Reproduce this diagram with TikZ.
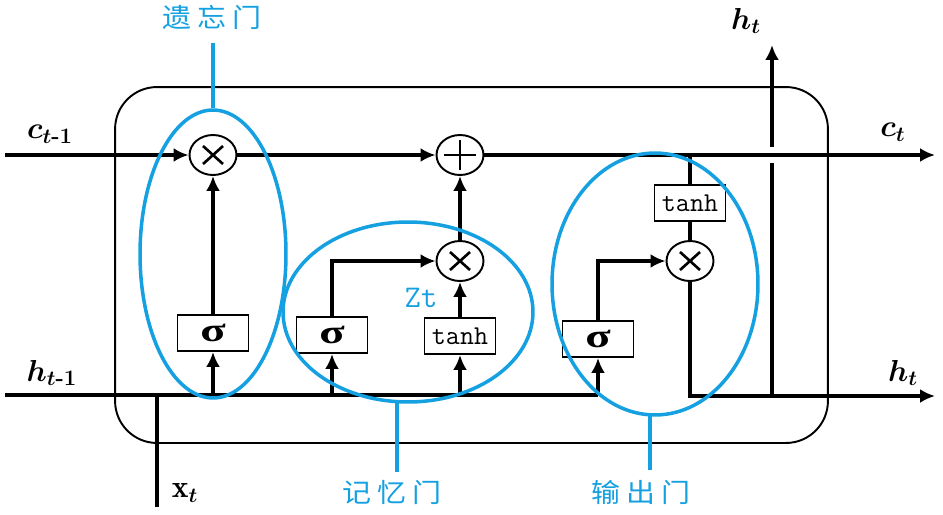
\documentclass[tikz,border=0pt]{standalone}
\usepackage{amsmath}
\usepackage{fontspec}
\newfontfamily\cjk{Noto Sans CJK SC}
\newfontfamily\grk{Liberation Serif}
\usetikzlibrary{arrows.meta,shapes.geometric,calc}
\definecolor{gateblue}{RGB}{20,160,225}
\newcommand{\sigsym}{\scalebox{1.4}[1]{\grk\bfseries σ}}
\begin{document}
\begin{tikzpicture}[x=0.02cm,y=-0.02cm,
  main/.style={line width=2.2pt},
  conn/.style={line width=1.9pt},
  arr/.style={-{Latex[length=3mm,width=2.8mm]}},
  opnode/.style={ellipse,draw,line width=1.1pt,minimum width=0.94cm,minimum height=0.8cm,inner sep=0pt,fill=white},
  multop/.style={opnode,path picture={
    \draw[line width=1.5pt] ([shift={(-10,-9)}]path picture bounding box.center) -- ([shift={(10,9)}]path picture bounding box.center);
    \draw[line width=1.5pt] ([shift={(-10,9)}]path picture bounding box.center) -- ([shift={(10,-9)}]path picture bounding box.center);}},
  plusop/.style={opnode,path picture={
    \draw[line width=1.5pt] ([shift={(-16,0)}]path picture bounding box.center) -- ([shift={(16,0)}]path picture bounding box.center);
    \draw[line width=1.5pt] ([shift={(0,-15)}]path picture bounding box.center) -- ([shift={(0,15)}]path picture bounding box.center);}},
  gbox/.style={draw,line width=1.1pt,fill=white,minimum width=1.42cm,minimum height=0.72cm,inner sep=0pt},
  sig/.style={gbox,font=\fontsize{19}{21}\selectfont},
  th/.style={gbox,font=\fontsize{15.5}{17}\selectfont\ttfamily},
  gatering/.style={ellipse,draw=gateblue,line width=2pt,inner sep=0pt},
  lead/.style={draw=gateblue,line width=2.3pt},
  cjklab/.style={text=gateblue,font=\fontsize{15}{17}\selectfont\cjk},
  mlab/.style={font=\fontsize{18}{20}\selectfont}
]
\useasboundingbox (0,0) rectangle (943,514);
% cell box
\node[draw,line width=1.1pt,rounded corners=0.84cm,minimum width=14.26cm,minimum height=7.12cm] (cell) at (471.5,265) {};

% coordinates
\coordinate (cin) at (5,155);
\coordinate (cout) at (935,155);
\coordinate (hin) at (5,395);
\coordinate (hend) at (598,395);
\coordinate (hout) at (935,396);
\coordinate (xin) at (157,507);
\coordinate (xtop) at (157,395);
\coordinate (vbot) at (772,396);
\coordinate (vg1) at (772,163);
\coordinate (vg2) at (772,147);
\coordinate (vtop) at (772,45);

% operators
\node[multop] (fx) at (213,155) {};
\node[plusop] (add) at (460,155) {};
\node[multop] (mx) at (460,261) {};
\node[multop] (ox) at (690,261) {};

% gate boxes
\node[sig] (fs) at (213,333) {\sigsym};
\node[sig] (ms) at (332,335) {\sigsym};
\node[th]  (mt) at (460,336) {tanh};
\node[sig] (os) at (598,339) {\sigsym};
\node[th]  (ot) at (690,203) {tanh};

% cell state line
\draw[main,arr] (cin) -- (fx);
\draw[main,arr] (fx) -- (add);
\draw[main,arr] (add) -- (cout);
% hidden/input line
\draw[main] (hin) -- (hend);
\draw[main] (xin) -- (xtop);

% forget gate
\draw[conn,arr] (fs.south |- hin) -- (fs.south);
\draw[conn,arr] (fs.north) -- (fx.south);
% memory gate
\draw[conn,arr] (ms.south |- hin) -- (ms.south);
\draw[conn,arr] (ms.north) |- (mx.west);
\draw[conn,arr] (mt.south |- hin) -- (mt.south);
\draw[conn,arr] (mt.north) -- (mx.south);
\draw[conn,arr] (mx.north) -- (add.south);
% output gate
\draw[conn,arr] (os.south |- hin) -- (os.south);
\draw[conn,arr] (os.north) |- (ox.west);
\draw[conn] (ot.north |- cin) -- (ot.north);
\draw[conn] (ot.south) -- (ox.north);
\draw[main,arr] (ox.south) |- (hout);
% h_t upward
\draw[main] (vbot) -- (vg1);
\draw[main,arr] (vg2) -- (vtop);

% blue gate outlines
\node[gatering,minimum width=2.92cm,minimum height=5.76cm] (fg) at (213,254) {};
\node[gatering,minimum width=5cm,minimum height=3.6cm] (mg) at (408,312) {};
\node[gatering,minimum width=4.12cm,minimum height=5.24cm] (og) at (655,284) {};

% gate labels
\node[cjklab] (fglab) at (212,17) {\scalebox{1.1}[1]{遗\hspace{3pt}忘\hspace{3pt}门}};
\node[cjklab] (mglab) at (392,492) {\scalebox{1.1}[1]{记\hspace{3pt}忆\hspace{3pt}门}};
\node[cjklab] (oglab) at (641,492) {\scalebox{1.1}[1]{输\hspace{3pt}出\hspace{3pt}门}};
\draw[lead] (fg.north) -- ++(0,-65);
\draw[lead] (397,402) -- (397,472);
\draw[lead] (650,415) -- (650,470);

\node[text=gateblue,font=\fontsize{18}{20}\selectfont\ttfamily] (zt) at (421,298) {Zt};

% signal labels
\node[mlab] (lc1) at (50,134) {$\boldsymbol{c}_{\boldsymbol{t}\textbf{-1}}$};
\node[mlab] (lh1) at (52,373) {$\boldsymbol{h}_{\boldsymbol{t}\textbf{-1}}$};
\node[mlab] (lx) at (185,493) {$\mathbf{x}_{\boldsymbol{t}}$};
\node[mlab] (lht) at (746,21) {$\boldsymbol{h}_{\boldsymbol{t}}$};
\node[mlab] (lct) at (893,132) {$\boldsymbol{c}_{\boldsymbol{t}}$};
\node[mlab] (lhr) at (903,373) {$\boldsymbol{h}_{\boldsymbol{t}}$};
\end{tikzpicture}
\end{document}
